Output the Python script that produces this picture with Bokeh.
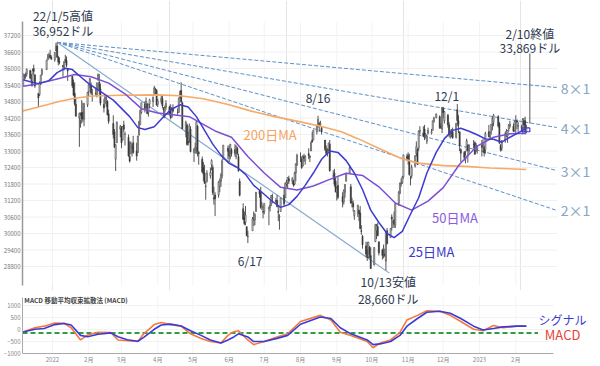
import pandas as pd
from bokeh.plotting import figure
from bokeh.layouts import column
from bokeh.models import Range1d, FixedTicker, Label, ColumnDataSource, BasicTickFormatter
from bokeh.embed import file_html
from bokeh.resources import INLINE

FONT = "Noto Sans CJK JP"
ORIGIN = pd.Timestamp("2022-01-01")


def day(s):
    return (pd.Timestamp(s) - ORIGIN) / pd.Timedelta(days=1)


# ---------------- data ----------------
first_day = "2021-12-06"
last_day = "2023-02-10"
holidays = ["2021-12-24", "2022-01-17", "2022-02-21", "2022-04-15", "2022-05-30", "2022-06-20",
            "2022-07-04", "2022-09-05", "2022-11-24", "2022-12-26", "2023-01-02", "2023-01-16"]

opens = [
    34632, 35374, 35726, 35722, 35800, 35924, 35558, 35530, 35995, 35765, 35094, 35057, 35436, 35780, 35960, 36320, 36420, 36485, 36400,
    36321, 36636, 36823, 36410, 36250, 36120, 36030, 36330, 36300, 35980, 35720, 35450, 35100, 34700, 34200, 34100, 34400, 34400, 34150, 34680,
    35160, 35450, 35400, 35070, 35100, 35050, 35600, 35500, 35250, 34700, 34750, 34900, 34800, 34350, 34000, 33700, 32700, 33300, 33800,
    33850, 33400, 33950, 33600, 33500, 32800, 32900, 33100, 33300, 33000, 32950, 33600, 33950, 34400, 34700, 34600, 34700, 34400, 34700, 34800, 35100, 35250, 35200,
    34700, 34800, 34900, 34550, 34450, 34600, 34600, 34450, 34250, 34550, 34400, 34400, 34950, 35200, 34750, 33700, 33950, 33350, 33450, 33800,
    32950, 33050, 33100, 33900, 32950, 32700, 32400, 32200, 31700, 31900, 32100, 32500, 32400, 31300, 31400, 31400, 31700, 31900, 32100, 32700, 33100,
    33000, 32800, 33050, 33050, 32800, 33100, 32800, 31900, 30900, 30600, 30400, 30250, 29900, 30100, 30300, 30500, 30800, 31550, 31500, 30950, 30800,
    30800, 30900, 30950, 31100, 31300, 31200, 31200, 30800, 30600, 30800, 31400, 31300, 31800, 31850, 32000, 31900, 31900, 31800, 32200, 32500,
    32800, 32700, 32450, 32800, 32650, 32900, 32800, 33000, 33400, 33400, 33700, 33900, 34000, 33950, 33850, 33400, 33050, 32900, 33050, 33250, 32100, 32200, 31900,
    31500, 31750, 31350, 31150, 31500, 31900, 32200, 31700, 31150, 31100, 30650, 30750, 30850, 30750, 30100, 29900, 29550, 29400, 29150, 29500, 29200,
    28850, 29700, 30100, 30250, 29700, 29400, 29200, 29250, 29000, 30100, 29850, 30600, 30400, 30500, 30300, 31100, 31450, 31800, 31850, 32050, 32800,
    32850, 32650, 32000, 32100, 32450, 32900, 33050, 33100, 33700, 33650, 33800, 33500, 33350, 33650, 33650, 33750, 34050, 34200, 34250, 33900, 33800,
    34550, 34100, 34300, 33950, 33550, 33700, 33700, 33500, 34500, 34100, 33700, 33050, 32950, 32700, 33000, 33200, 33000, 33250, 33300, 33000, 33050,
    33200, 33200, 33150, 33050, 33700, 33500, 33750, 34000, 34050, 34250, 34000, 33200, 33100, 33400, 33550, 33550, 33800, 33900, 33900, 33750,
    34050, 34100, 33900, 33850, 33800, 34100, 34100, 33700,
]
highs = [
    35275, 35825, 35799, 35850, 36000, 35960, 35800, 36000, 36140, 35800, 35100, 35530, 35770, 36010, 36310, 36530, 36570, 36680, 36480,
    36595, 36934, 36952, 36465, 36400, 36120, 36270, 36500, 36440, 35980, 35720, 35600, 35500, 34900, 34400, 34400, 34850, 34760, 34730, 35150,
    35430, 35650, 35500, 35260, 35300, 35500, 35820, 35800, 35450, 34900, 35000, 35000, 34850, 34500, 34300, 33800, 33250, 34060, 33950,
    33900, 33900, 34100, 33700, 33600, 33350, 33350, 33250, 33550, 33300, 33550, 34100, 34500, 34760, 34800, 34950, 34750, 34710, 34900, 34980, 35370, 35300, 35250,
    34900, 35000, 35000, 34600, 34650, 34850, 34650, 34700, 34600, 34700, 34550, 34950, 35200, 35500, 34800, 34100, 34000, 33700, 34000, 33900,
    33100, 33300, 34100, 33950, 33000, 32800, 32600, 32500, 31900, 32300, 32400, 32700, 32500, 31700, 31500, 31900, 32000, 32200, 32700, 33220, 33200,
    33200, 33250, 33100, 33250, 33200, 33150, 32900, 32000, 31100, 30800, 31000, 30250, 30100, 30600, 30800, 30750, 31500, 31600, 31700, 31150, 31000,
    31100, 30950, 31200, 31400, 31450, 31300, 31400, 31000, 30700, 31300, 31700, 31850, 31950, 32050, 32100, 32050, 31950, 32250, 32550, 32900,
    32950, 32800, 32850, 32900, 32850, 33100, 32850, 33350, 33700, 33770, 33950, 34281, 34050, 34100, 33900, 33400, 33200, 33100, 33300, 33400, 32300, 32350, 32050,
    31700, 32050, 31500, 31600, 31800, 32200, 32500, 31800, 31300, 31200, 30850, 31050, 30850, 31000, 30300, 29950, 29700, 29700, 29700, 29550, 29500,
    29500, 30350, 30350, 30400, 29700, 29450, 29600, 29450, 30050, 30200, 30200, 30700, 30500, 30800, 31100, 31550, 31850, 32000, 32100, 32870, 32900,
    32950, 32900, 32100, 32500, 32850, 33350, 33100, 33750, 33900, 33900, 33950, 33650, 33600, 33850, 33800, 34100, 34250, 34360, 34300, 34000, 34600,
    34600, 34450, 34350, 34050, 33750, 33800, 33850, 34010, 34712, 34300, 33700, 33100, 33000, 33000, 33450, 33250, 33250, 33400, 33350, 33300, 33200,
    33400, 33450, 33200, 33700, 33950, 33700, 33980, 34250, 34350, 34300, 34050, 33250, 33400, 33700, 33800, 33750, 33980, 34100, 34000, 34100,
    34300, 34150, 34050, 33950, 34200, 34200, 34250, 33950,
]
lows = [
    34630, 35374, 35595, 35630, 35703, 35600, 35350, 35350, 35767, 35300, 34600, 35000, 35400, 35750, 35950, 36300, 36340, 36390, 36330,
    36246, 36636, 36400, 36114, 36150, 35700, 35935, 36200, 36050, 35550, 35290, 35010, 34650, 34260, 33150, 33850, 34000, 34060, 33900, 34600,
    35000, 35300, 35050, 34800, 35000, 34950, 35550, 35050, 34650, 34400, 34700, 34600, 34300, 33990, 33450, 33130, 32272, 33300, 33500,
    33100, 33380, 33700, 33200, 32800, 32579, 32900, 32800, 32900, 32650, 32930, 33550, 33950, 34350, 34400, 34550, 34350, 34250, 34550, 34600, 35000, 35050, 34650,
    34600, 34700, 34550, 34200, 34200, 34500, 34300, 34150, 34200, 34400, 34300, 34400, 34900, 34750, 33800, 33500, 33200, 33200, 33300, 32950,
    32600, 32900, 32900, 32800, 32500, 32200, 31900, 31800, 31230, 31850, 32000, 32300, 31400, 31050, 30636, 31300, 31500, 31700, 32000, 32700, 32700,
    32600, 32700, 32800, 32800, 32700, 32850, 32250, 31350, 30500, 30300, 30300, 29900, 29653, 30100, 30300, 30300, 30800, 31300, 30900, 30850, 30550,
    30700, 30300, 30800, 31000, 31100, 31100, 30950, 30450, 30140, 30800, 31000, 31300, 31700, 31650, 31800, 31800, 31700, 31750, 31900, 32450,
    32600, 32350, 32450, 32600, 32500, 32700, 32600, 33000, 33300, 33400, 33600, 33850, 33700, 33900, 33600, 33000, 32900, 32800, 33000, 32250, 31950, 31700, 31500,
    31200, 31250, 30950, 31050, 31300, 31900, 32200, 31100, 30950, 30800, 30500, 30600, 30450, 30150, 29950, 29450, 29150, 29000, 29100, 29100, 28715,
    28850, 29700, 29800, 29900, 29200, 29050, 29100, 29150, 28660, 29600, 29850, 30100, 30200, 30200, 30200, 31000, 31450, 31700, 31800, 32000, 32650,
    32500, 32100, 31750, 32000, 32400, 32800, 32500, 33000, 33600, 33500, 33400, 33450, 33250, 33600, 33600, 33750, 34050, 34200, 33800, 33800, 33650,
    34200, 34000, 33850, 33500, 33450, 33500, 33450, 33450, 33900, 33650, 33000, 32600, 32650, 32550, 33000, 32580, 32900, 33100, 32900, 32950, 32900,
    32800, 32950, 32800, 32900, 33500, 33400, 33600, 33750, 33900, 33850, 33250, 32980, 33000, 33300, 33500, 33300, 33700, 33850, 33700, 33700,
    33600, 33800, 33700, 33700, 33600, 33900, 33600, 33650,
]
closes = [
    35227, 35720, 35754, 35754, 35971, 35651, 35544, 35927, 35898, 35365, 34932, 35493, 35754, 35951, 36302, 36398, 36488, 36398, 36338,
    36585, 36799, 36407, 36236, 36231, 36068, 36252, 36290, 36113, 35912, 35368, 35029, 34715, 34265, 34365, 34298, 34168, 34160, 34725, 35132,
    35405, 35629, 35111, 35089, 35091, 35463, 35768, 35242, 34738, 34566, 34989, 34934, 34312, 34079, 33597, 33132, 33224, 34059, 33893,
    33295, 33891, 33795, 33615, 32818, 32633, 33286, 33174, 32945, 32818, 33545, 34063, 34481, 34755, 34553, 34808, 34358, 34708, 34862, 34956, 35294, 35229, 34678,
    34818, 34922, 34641, 34497, 34584, 34721, 34309, 34221, 34565, 34451, 34412, 34911, 35161, 34793, 33811, 34049, 33240, 33302, 33916, 32977,
    33062, 33129, 34061, 32998, 32899, 32246, 32161, 31834, 31730, 32197, 32223, 32655, 31490, 31253, 31262, 31880, 31929, 32120, 32637, 33213, 32990,
    32813, 33248, 32900, 32916, 33180, 32910, 32273, 31393, 30517, 30365, 30669, 29927, 29888, 30530, 30484, 30677, 31501, 31439, 30947, 31029, 30775,
    31097, 30968, 31037, 31385, 31338, 31174, 30982, 30773, 30630, 31289, 31073, 31828, 31875, 32036, 31899, 31990, 31762, 32198, 32530, 32845,
    32798, 32397, 32813, 32727, 32803, 32833, 32775, 33310, 33337, 33761, 33913, 34152, 33981, 33999, 33707, 33064, 32910, 32969, 33292, 32283, 32099, 31791, 31510,
    31656, 31318, 31145, 31581, 31775, 32151, 32381, 31105, 31135, 30962, 30822, 31020, 30706, 30184, 30077, 29590, 29261, 29135, 29684, 29226, 28726,
    29491, 30317, 30274, 29927, 29297, 29203, 29240, 29211, 30039, 29635, 30186, 30524, 30424, 30334, 31083, 31500, 31837, 31839, 32033, 32861, 32733,
    32653, 32148, 32001, 32403, 32827, 33160, 32514, 33716, 33748, 33537, 33593, 33554, 33547, 33746, 33700, 34098, 34195, 34347, 33850, 33853, 34590,
    34395, 34430, 33947, 33597, 33598, 33781, 33477, 34005, 34109, 33966, 33203, 32920, 32758, 32850, 33377, 33027, 33204, 33241, 32876, 33221, 33147,
    33136, 33270, 32930, 33631, 33518, 33704, 33973, 34190, 34303, 33911, 33297, 33045, 33375, 33630, 33734, 33744, 33950, 33978, 33718, 34086,
    34093, 34054, 33926, 33891, 34156, 33950, 33699, 33869,
]

ma25_dates = ["2021-12-06", "2021-12-13", "2021-12-20", "2021-12-29", "2022-01-05", "2022-01-12", "2022-01-18",
              "2022-01-25", "2022-02-01", "2022-02-08", "2022-02-15", "2022-02-22", "2022-03-01", "2022-03-08",
              "2022-03-15", "2022-03-21", "2022-03-29", "2022-04-05", "2022-04-12", "2022-04-20", "2022-04-27",
              "2022-05-04", "2022-05-11", "2022-05-18", "2022-05-25", "2022-06-01", "2022-06-08", "2022-06-15",
              "2022-06-22", "2022-06-29", "2022-07-07", "2022-07-15", "2022-07-22", "2022-07-29", "2022-08-05",
              "2022-08-12", "2022-08-19", "2022-08-26", "2022-09-02", "2022-09-09", "2022-09-16", "2022-09-23",
              "2022-09-30", "2022-10-07", "2022-10-14", "2022-10-20", "2022-10-27", "2022-11-03", "2022-11-10",
              "2022-11-17", "2022-11-25", "2022-12-02", "2022-12-09", "2022-12-16", "2022-12-23", "2022-12-30",
              "2023-01-06", "2023-01-13", "2023-01-20", "2023-01-27", "2023-02-03", "2023-02-10"]
ma25_vals = [35600, 35520, 35450, 35560, 35850, 36010, 35960,
             35700, 35450, 35250, 35050, 34850, 34550, 34250,
             33850, 33780, 33880, 34200, 34500, 34680, 34600,
             34250, 33750, 33250, 32850, 32550, 32400, 32150,
             31750, 31500, 31200, 30950, 31050, 31350, 31750,
             32200, 32700, 33000, 32950, 32650, 32200, 31600,
             30850, 30400, 30000, 29850, 30080, 30700, 31300,
             32200, 32950, 33450, 33750, 33830, 33720, 33590,
             33440, 33430, 33320, 33500, 33660, 33820]

ma50_dates = ["2021-12-06", "2021-12-20", "2022-01-05", "2022-01-20", "2022-02-03", "2022-02-18", "2022-03-04",
              "2022-03-18", "2022-04-01", "2022-04-14", "2022-04-28", "2022-05-06", "2022-05-20", "2022-06-03",
              "2022-06-17", "2022-07-01", "2022-07-15", "2022-07-29", "2022-08-12", "2022-08-26", "2022-09-09",
              "2022-09-23", "2022-10-07", "2022-10-21", "2022-11-04", "2022-11-18", "2022-12-01", "2022-12-15",
              "2022-12-30", "2023-01-13", "2023-01-27", "2023-02-10"]
ma50_vals = [35350, 35450, 35620, 35780, 35700, 35470, 35080,
             34540, 34380, 34320, 34250, 34060, 33730, 33500,
             32800, 32200, 31680, 31580, 31730, 31970, 32190,
             32110, 31700, 31110, 30850, 31180, 31670, 32520,
             33180, 33500, 33630, 33650]

ma200_dates = ["2021-12-06", "2021-12-20", "2022-01-05", "2022-01-20", "2022-02-04", "2022-03-01", "2022-04-01",
               "2022-04-20", "2022-05-10", "2022-06-01", "2022-06-20", "2022-07-10", "2022-08-01", "2022-08-20",
               "2022-09-05", "2022-09-19", "2022-10-11", "2022-10-26", "2022-11-10", "2022-12-01", "2022-12-20",
               "2023-01-10", "2023-02-10"]
ma200_vals = [34450, 34600, 34780, 34920, 35000, 35030, 35040,
              35010, 34900, 34680, 34450, 34250, 34060, 33880,
              33700, 33450, 33020, 32730, 32560, 32470, 32440,
              32380, 32330]

macd_dates = ["2021-12-06", "2021-12-17", "2021-12-25", "2022-01-03", "2022-01-11", "2022-01-17", "2022-01-25",
              "2022-01-31", "2022-02-09", "2022-02-20", "2022-02-26", "2022-03-06", "2022-03-15", "2022-03-20",
              "2022-03-29", "2022-04-04", "2022-04-12", "2022-04-21", "2022-04-29", "2022-05-08", "2022-05-16",
              "2022-05-25", "2022-05-31", "2022-06-05", "2022-06-09", "2022-06-17", "2022-06-22", "2022-07-01",
              "2022-07-12", "2022-07-21", "2022-08-01", "2022-08-18", "2022-08-27", "2022-09-04", "2022-09-13",
              "2022-09-27", "2022-10-02", "2022-10-08", "2022-10-17", "2022-10-25", "2022-10-31", "2022-11-09",
              "2022-11-17", "2022-11-28", "2022-12-07", "2022-12-16", "2022-12-27", "2023-01-04", "2023-01-13",
              "2023-01-21", "2023-02-02", "2023-02-10"]
macd_vals = [-115, 75, 140, 270, 260, 75, -435, -230, -115, -130, -435, -470, -500, -180, 205, 295, 205, 140,
             -180, -370, -500, -565, -245, -90, -50, -435, -630, -500, -310, -180, 335, 590, 400, -115, -245,
             -500, -760, -565, -435, -115, 400, 590, 780, 760, 590, 335, 10, -50, 170, 75, 140, 140]
signal_vals = [-115, 10, 40, 205, 250, 190, -245, -300, -200, -140, -300, -430, -490, -330, 10, 190, 225, 150,
               -50, -245, -435, -560, -435, -310, -180, -310, -500, -500, -370, -245, 220, 525, 460, 75, -180,
               -435, -630, -600, -500, -245, 140, 460, 720, 760, 680, 460, 140, -20, 40, 110, 140, 140]

# Gann fan from the 2022/1/5 high
fan_anchor_date = "2022-01-05"
fan_anchor_value = 36952
fan_end_date = "2023-03-08"
fan_names = ["8×1", "4×1", "3×1", "2×1"]
fan_end_values = [35310, 33855, 32290, 30840]
one_by_one_end_date = "2022-10-16"
one_by_one_end_value = 28560

# last-value marker box at the end of the moving averages
marker_dates = ["2023-02-06", "2023-02-13"]
marker_values = [33700, 33840]

price_ticks = [28800, 29400, 30000, 30600, 31200, 31800, 32400, 33000, 33600, 34200, 34800, 35400, 36000, 36600, 37200]
macd_ticks = [-1000, -500, 0, 500, 1000]
month_tick_dates = ["2022-01-01", "2022-02-01", "2022-03-01", "2022-04-01", "2022-05-01", "2022-06-01", "2022-07-01",
                    "2022-08-01", "2022-09-01", "2022-10-01", "2022-11-01", "2022-12-01", "2023-01-01", "2023-02-01"]
month_tick_labels = ["2022", "2月", "3月", "4月", "5月", "6月", "7月", "8月", "9月", "10月", "11月", "12月", "2023", "2月"]
macd_base_value = -150

# ---------------- layout constants ----------------
X0, X1_MAIN, X1_MACD, X1_VIEW = -25.6, 431.7, 428.3, 468.4
P_LO, P_HI = 28110, 37709          # price axis extent
M_LO, M_HI = -1000, 1353           # MACD axis extent

# ---------------- build ----------------
dates = [d for d in pd.bdate_range(first_day, last_day) if d.strftime("%Y-%m-%d") not in holidays]
n = len(dates)
if not (n == len(opens) == len(highs) == len(lows) == len(closes)):
    raise ValueError(f"length mismatch: dates={n} o={len(opens)} h={len(highs)} l={len(lows)} c={len(closes)}")

xs = [day(d) for d in dates]
src = ColumnDataSource(dict(
    x=xs, h=highs, l=lows,
    top=[max(o, c) for o, c in zip(opens, closes)],
    bot=[min(o, c) for o, c in zip(opens, closes)],
    fill=["#ffffff" if c >= o else "#3a3a3a" for o, c in zip(opens, closes)],
))

month_ticks = [day(s) for s in month_tick_dates]


def style_axis(axis, color):
    axis.axis_line_color = color
    axis.major_tick_line_color = None
    axis.minor_tick_line_color = None
    axis.major_tick_out = 0
    axis.major_tick_in = 0
    axis.major_label_standoff = 2
    axis.major_label_text_font_size = "6px"
    axis.major_label_text_color = "#777777"
    axis.major_label_text_font = FONT


p = figure(width=600, height=290, output_backend="svg", toolbar_location=None,
           x_range=Range1d(X0, X1_VIEW), y_range=Range1d(27928, 38473),
           x_axis_location=None,
           min_border_left=21, min_border_right=0, min_border_top=0, min_border_bottom=0)
p.outline_line_color = None
p.ygrid.visible = False
p.yaxis.ticker = FixedTicker(ticks=price_ticks)
p.yaxis.formatter = BasicTickFormatter(use_scientific=False)
p.yaxis.bounds = (P_LO, P_HI)
style_axis(p.yaxis, "#999999")
p.yaxis.axis_line_width = 1.5

# faint grid, limited to the price panel
p.segment(x0=[X0] * len(price_ticks), y0=price_ticks, x1=[X1_MAIN] * len(price_ticks), y1=price_ticks,
          line_color="#f0f0f0", line_width=1)
p.segment(x0=month_ticks, y0=[P_LO] * len(month_ticks), x1=month_ticks, y1=[P_HI] * len(month_ticks),
          line_color="#f3f3f3", line_width=1)

ax = day(fan_anchor_date)
for nm, ev in zip(fan_names, fan_end_values):
    p.line([ax, day(fan_end_date)], [fan_anchor_value, ev], line_color="#5b90c8", line_width=1, line_dash="4 2")
p.line([ax, day(one_by_one_end_date)], [fan_anchor_value, one_by_one_end_value], line_color="#86aad0", line_width=1.2)

p.segment(x0="x", y0="h", x1="x", y1="l", source=src, line_color="#555555", line_width=1)
p.vbar(x="x", width=0.9, top="top", bottom="bot", source=src, fill_color="fill", line_color="#3a3a3a", line_width=0.6)

p.line([day(d) for d in ma200_dates], ma200_vals, line_color="#f5aa68", line_width=1.6)
p.line([day(d) for d in ma50_dates], ma50_vals, line_color="#7b4fd6", line_width=1.5)
p.line([day(d) for d in ma25_dates], ma25_vals, line_color="#3c3cd0", line_width=1.5)
p.quad(left=[day(marker_dates[0])], right=[day(marker_dates[1])], bottom=[marker_values[0]], top=[marker_values[1]],
       fill_color=None, line_color="#3c3cd0", line_width=1.2)

# pointer line from the last-close label
p.segment(x0=[day("2023-02-13")], y0=[36546], x1=[day("2023-02-13")], y1=[34000], line_color="#555555", line_width=1)


def lab(fig, x, y, text, color, size="12px", align="center", style="normal"):
    fig.add_layout(Label(x=x, y=y, text=text, text_color=color, text_font=FONT, text_font_size=size,
                         text_align=align, text_baseline="middle", text_font_style=style))


NAVY = "#2e3a4e"
lab(p, day("2022-01-10"), 37927, "22/1/5高値", NAVY)
lab(p, day("2022-01-10"), 37382, "36,952ドル", NAVY)
lab(p, day("2022-08-16"), 34946, "8/16", NAVY)
lab(p, day("2022-12-04"), 35018, "12/1", NAVY)
lab(p, day("2022-06-19"), 29019, "6/17", NAVY)
lab(p, day("2022-10-15"), 28260, "10/13安値", NAVY)
lab(p, day("2023-02-13"), 37273, "2/10終値", NAVY)
lab(p, day("2023-02-13"), 36764, "33,869ドル", NAVY)
lab(p, day("2022-07-06"), 33600, "200日MA", "#f4a460", "13px")
lab(p, day("2022-12-11"), 30582, "50日MA", "#8a5cdc", "13px")
lab(p, day("2022-11-21"), 29346, "25日MA", "#3a3ac8", "13px")
for nm, yv in zip(fan_names, [35309, 33855, 32291, 30837]):
    lab(p, day("2023-03-24"), yv, nm, "#86a6c4", "14px")

# ---------------- MACD panel ----------------
q = figure(width=600, height=76, output_backend="svg", toolbar_location=None,
           x_range=Range1d(X0, X1_VIEW), y_range=Range1d(-1000, 1627),
           min_border_left=21, min_border_right=0, min_border_top=0, min_border_bottom=9)
q.outline_line_color = None
q.xgrid.visible = False
q.ygrid.visible = False
q.xaxis.ticker = FixedTicker(ticks=month_ticks)
q.xaxis.major_label_overrides = {t: s for t, s in zip(month_ticks, month_tick_labels)}
q.xaxis.bounds = (X0, X1_MACD)
q.yaxis.ticker = FixedTicker(ticks=macd_ticks)
q.yaxis.bounds = (M_LO, M_HI)
style_axis(q.xaxis, "#aaaaaa")
style_axis(q.yaxis, "#aaaaaa")
q.xaxis.major_label_standoff = 1
q.xaxis.major_label_text_color = "#888888"
q.yaxis.major_label_text_color = "#888888"

q.segment(x0=[X0] * len(macd_ticks), y0=macd_ticks, x1=[X1_MACD] * len(macd_ticks), y1=macd_ticks,
          line_color="#f2f2f2", line_width=1)
q.segment(x0=month_ticks, y0=[M_LO] * len(month_ticks), x1=month_ticks, y1=[M_HI] * len(month_ticks),
          line_color="#f4f4f4", line_width=1)

mx = [day(d) for d in macd_dates]
q.line([X0, day("2023-02-20")], [macd_base_value, macd_base_value], line_color="#2e9e3e", line_width=2, line_dash="5 3")
q.line(mx, macd_vals, line_color="#f47a3a", line_width=1.6)
q.line(mx, signal_vals, line_color="#3b3bdb", line_width=1.6)

lab(q, day("2021-12-08"), 1216, "MACD 移動平均収束拡散法 (MACD)", "#444444", "6.5px", "left", "bold")
lab(q, day("2022-10-15"), 1314, "28,660ドル", NAVY)
lab(q, day("2023-03-13"), 412, "シグナル", "#3a3ad0", "12px")
lab(q, day("2023-03-13"), -215, "MACD", "#e8413a", "13px")

layout = column(p, q, spacing=0)
open("out.html", "w").write(file_html(layout, INLINE))
